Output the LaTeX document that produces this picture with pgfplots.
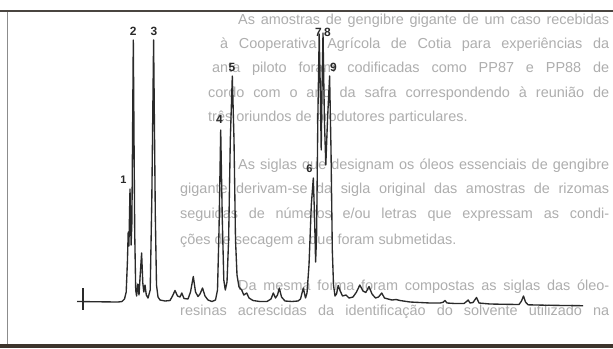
\documentclass[border=0pt]{standalone}
\usepackage{pgfplots}
\pgfplotsset{compat=1.18}
\usepackage{fontspec}
\setmainfont{Liberation Sans}
\definecolor{trace}{HTML}{2A2A2A}
\definecolor{ghost}{HTML}{AEAEAE}
\definecolor{frametop}{HTML}{4A4540}
\definecolor{framebot}{HTML}{3D342C}
\definecolor{frameleft}{HTML}{8C8C8C}
\newcommand\ghostj[3]{\node[anchor=mid west,inner sep=0pt,text=ghost,font=\fontsize{14.5}{16}\selectfont] at (#1,{348-#2}) {\makebox[\dimexpr 609bp-#1bp\relax][s]{#3}};}
\newcommand\ghost[3]{\node[anchor=mid west,inner sep=0pt,text=ghost,font=\fontsize{14.5}{16}\selectfont] at (#1,{348-#2}) {#3};}
\begin{document}
\begin{tikzpicture}[x=1bp,y=1bp]
\useasboundingbox (0,0) rectangle (613,348);
\fill[white] (0,0) rectangle (613,348);
\ghostj{238}{22}{As amostras de gengibre gigante de um caso recebidas}
\ghostj{220}{46}{à Cooperativa Agrícola de Cotia para experiências da}
\ghostj{212}{70}{anta piloto foram codificadas como PP87 e PP88 de}
\ghostj{208}{95}{cordo com o ano da safra correspondendo à reunião de}
\ghost{208}{119}{três oriundos de produtores particulares.}
\ghostj{238}{167}{As siglas que designam os óleos essenciais de gengibre}
\ghostj{180}{191}{gigante derivam-se da sigla original das amostras de rizomas}
\ghostj{180}{216}{seguidas de números e/ou letras que expressam as condi-}
\ghost{180}{242}{ções de secagem a que foram submetidas.}
\ghostj{238}{288}{Da mesma forma foram compostas as siglas das óleo-}
\ghostj{180}{313}{resinas acrescidas da identificação do solvente utilizado na}
\draw[frameleft,line width=1.3bp] (7.5,4) -- (7.5,337);
\draw[frametop,line width=2.5bp] (0,337) -- (613,337);
\draw[framebot,line width=4bp] (0,2) -- (613,2);
\begin{axis}[at={(0,0)},anchor=south west,width=613bp,height=348bp,scale only axis,
  xmin=0,xmax=613,ymin=0,ymax=348,y dir=reverse,axis lines=none,clip=false]
\addplot[trace,line width=1.35bp,line join=round] coordinates {
(77,301.5) (100,301.8) (118,302) (122,301.5) (124.5,299) (126.2,292) (127.4,262)
(128.2,232) (128.9,246) (130,189) (131.1,245) (131.9,222) (133.3,40) (134.7,232)
(135.7,290) (136.6,296) (137.8,284) (139,295) (140.2,275) (141.6,253) (142.8,283)
(143.8,292) (145,285) (146.3,295) (148,298) (150.2,290) (151.8,200) (153.6,40)
(155.3,215) (156.5,285) (158,297) (160,300) (165,301) (170,300.5) (172.5,296)
(175,290.5) (177.5,296) (180,297) (181.8,293) (184,298.5) (188,299) (190.5,292)
(193.3,276.5) (195.5,292) (198,296.5) (200,294) (202.5,288) (205,296) (208,300)
(212,301.5) (215.5,300) (217.5,290) (219,230) (220.7,130) (222.3,220) (223.8,280)
(225.3,290) (227,282) (228.6,240) (230.3,140) (232.3,76) (234,140) (235.5,240)
(237,275) (239,287) (241.7,290) (243.8,295) (246.7,293) (249,298) (253,300.5)
(260,301.5) (267,301.5) (271,299) (273.3,293) (275.5,298) (277.5,295) (279.3,288)
(281.5,297) (285,301) (292,301.5) (298,301) (300.5,299) (303.3,288) (305.5,298)
(307,293) (309,265) (311.3,205) (313.3,178) (314.5,215) (315.6,262) (316.6,235)
(317.8,120) (319.2,34) (320.3,90) (321.2,150) (322,90) (323,33) (324.4,120)
(325.8,165) (327.5,120) (329.6,76) (331,150) (332.3,250) (333.5,285) (335,296)
(336.5,294) (338.2,285.5) (340.2,291) (342.5,296) (346,295) (349,298) (353,297)
(356.5,292) (359.8,285) (363,291) (365.8,292.5) (369,286.5) (372,294) (375.5,298)
(378.5,297) (381.7,293) (384.5,298) (388,299) (392,300) (396,299.5) (400,300.5)
(410,302) (420,302.5) (430,303) (440,303) (443,302.3) (445,300.5) (447,303)
(455,303.5) (464,303.5) (466.5,301.5) (468.2,300) (470,303) (473,302.5)
(476.5,297.5) (479,303) (490,304) (505,304.3) (519,304.5) (521.5,301) (523.5,296)
(525.5,302) (528,304.8) (545,305.2) (565,305.5) (583,305.7)
};
\addplot[trace,line width=1.35bp] coordinates {(83,288) (83,310)};
\begin{scope}[every node/.style={inner sep=0pt,text=trace,font=\fontsize{12}{14}\selectfont\bfseries}]
\node[font=\fontsize{11}{12}\selectfont\bfseries] at (axis cs:123.3,180) {1};
\node at (axis cs:133.3,31) {2};
\node at (axis cs:154,31) {3};
\node at (axis cs:219.5,119) {4};
\node at (axis cs:232,67) {5};
\node[font=\fontsize{11}{12}\selectfont\bfseries] at (axis cs:309.3,169) {6};
\node at (axis cs:318.5,32) {7};
\node at (axis cs:327.5,32) {8};
\node at (axis cs:333.5,67) {9};
\end{scope}
\end{axis}
\end{tikzpicture}
\end{document}
